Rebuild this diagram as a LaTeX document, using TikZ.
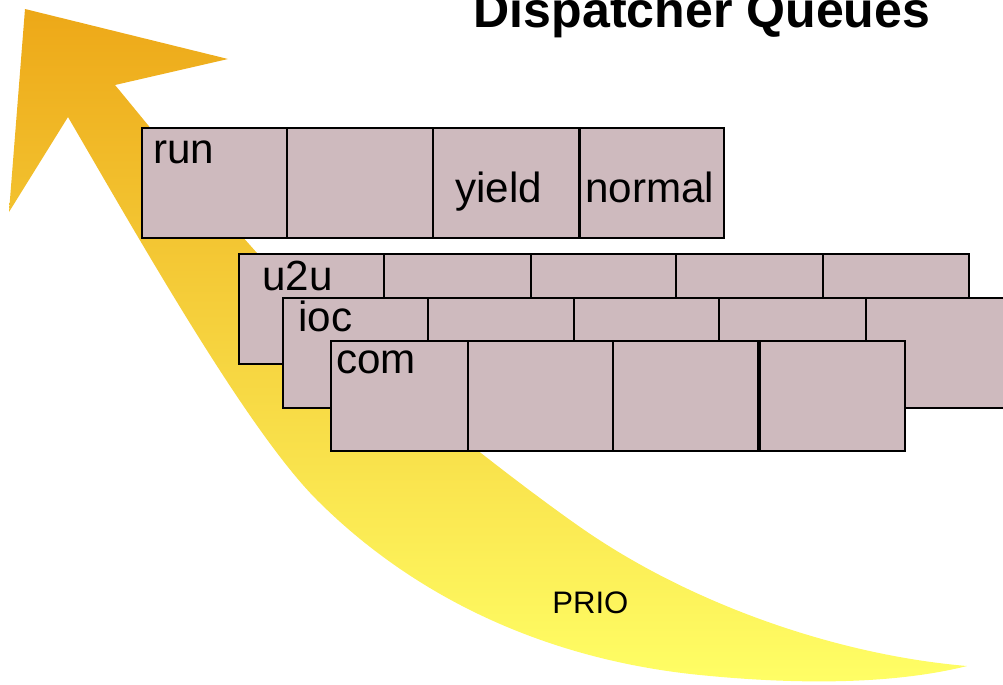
\documentclass[tikz,border=0pt]{standalone}
\usepackage{fontspec}
\setmainfont{Liberation Sans}
\definecolor{cellfill}{RGB}{206,186,190}
\definecolor{prioA}{RGB}{237,168,24}
\definecolor{prioB}{RGB}{246,212,64}
\definecolor{prioC}{RGB}{255,255,102}
\tikzset{
  cell/.style={draw=black, line width=1pt, fill=cellfill, inner sep=0pt,
    anchor=north west, minimum height=2.2cm},
  qlabel/.style={anchor=base west, inner sep=0pt, font=\fontsize{24}{24}\selectfont},
}

\begin{document}
\begin{tikzpicture}[x=0.02cm, y=-0.02cm]
    \useasboundingbox (0,0) rectangle (1003,684);
    % priority arrow
    \shade[top color=prioA, middle color=prioB, bottom color=prioC]
      (68,117) .. controls (138,237) and (247,430) .. (317,500)
      .. controls (417,600) and (550,660) .. (700,675)
      .. controls (820,687) and (907,681) .. (967,666)
      .. controls (837,655) and (690,604) .. (580,527)
      .. controls (500,471) and (337,343) .. (257,253)
      .. controls (197,186) and (140,115) .. (115,85)
      -- (228,59) -- (25,9) -- (9,212) -- cycle;
    \node[anchor=base west, inner sep=0pt, font=\fontsize{17.7}{18}\selectfont] (prio) at (552,613) {PRIO};
    \node[anchor=base, inner sep=0pt, font=\bfseries\fontsize{28.5}{30}\selectfont] (title) at (702,27) {Dispatcher Queues};
    % run queue
    \foreach \xa/\xb [count=\i] in {141/286, 286/432, 432/578, 579/723}
        \node[cell, minimum width={(\xb-\xa)*0.02cm}] (run\i) at (\xa,127) {};
    \node[qlabel] (runlbl) at (153,163) {run};
    \node[qlabel] (yieldlbl) at (455,202) {yield};
    \node[qlabel] (normallbl) at (585,202) {normal};
    % u2u, ioc and com queues
    \foreach \xa/\xb [count=\i] in {238/383, 383/530, 530/675, 675/822, 822/968}
        \node[cell, minimum width={(\xb-\xa)*0.02cm}] (u2u\i) at (\xa,253) {};
    \node[qlabel] (u2ulbl) at (262,290) {u2u};
    \foreach \xa/\xb [count=\i] in {282/427, 427/573, 573/718, 718/865, 865/1010}
        \node[cell, minimum width={(\xb-\xa)*0.02cm}] (ioc\i) at (\xa,297) {};
    \node[qlabel] (ioclbl) at (298,331) {ioc};
    \foreach \xa/\xb [count=\i] in {330/467, 467/612, 612/757, 759/904}
        \node[cell, minimum width={(\xb-\xa)*0.02cm}] (com\i) at (\xa,340) {};
    \node[qlabel] (comlbl) at (336,373) {com};
\end{tikzpicture}
\end{document}
